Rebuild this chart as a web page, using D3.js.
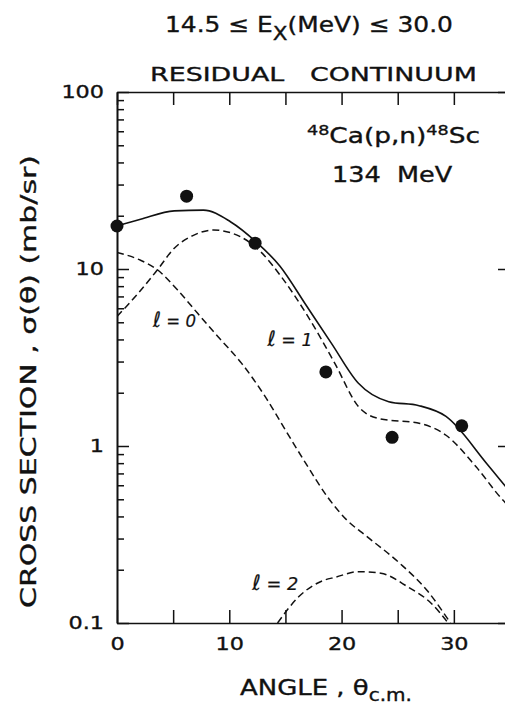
<!DOCTYPE html>
<html>
<head>
<meta charset="utf-8">
<script src="https://cdn.jsdelivr.net/npm/d3@7"></script>
<style>
  body { margin: 0; background: #fff; }
  svg { display: block; }
  text { font-family: "DejaVu Sans", "Liberation Sans", sans-serif; fill: #111; }
</style>
</head>
<body>
<div id="chart"></div>
<script>
const svgWidth = 505;
const svgHeight = 708;

// plot box (right edge runs off the page like the scan)
const margin = { top: 92, right: -5, bottom: 85, left: 117 };
const width = svgWidth - margin.left - margin.right;
const height = svgHeight - margin.top - margin.bottom;

// measured points
const dataAngle = [0, 6.2, 12.3, 18.6, 24.5, 30.7];
const dataSigma = [17.5, 25.8, 14.0, 2.62, 1.12, 1.30];

// total (solid)
const totalAngle = [0, 2.1, 5.1, 7.7, 10.1, 12.35, 14.5, 16.8, 19.1, 21.5, 24.2, 26.9, 29.3, 32.9, 35];
const totalSigma = [17.5, 19.1, 21.3, 21.5, 18.5, 14.3, 10.4, 6.3, 3.8, 2.26, 1.78, 1.69, 1.47, 0.80, 0.55];

// l = 0 component
const l0Angle = [0, 2.1, 3.6, 5.4, 7.2, 9.0, 11.1, 13.2, 15.0, 16.8, 18.8, 20.5, 22.2, 25.2, 27.6, 29.7];
const l0Sigma = [12.4, 11.2, 9.9, 7.6, 5.6, 4.14, 2.93, 1.90, 1.23, 0.80, 0.51, 0.38, 0.31, 0.217, 0.153, 0.1];

// l = 1 component
const l1Angle = [0, 1.9, 3.6, 5.1, 6.9, 8.6, 11.0, 12.8, 14.6, 17.0, 19.4, 21.5, 23.3, 27.0, 29.3, 32.0, 34.3, 35];
const l1Sigma = [5.4, 7.3, 9.9, 13.1, 15.6, 16.6, 15.2, 12.5, 9.1, 5.4, 2.93, 1.67, 1.43, 1.34, 1.15, 0.76, 0.50, 0.45];

// l = 2 component
const l2Angle = [14.3, 16.2, 18.5, 19.4, 21.5, 23.5, 25.9, 28.0, 29.5];
const l2Sigma = [0.1, 0.141, 0.175, 0.181, 0.195, 0.191, 0.160, 0.129, 0.1];

const xTicks = [0, 5, 10, 15, 20, 25, 30, 35];
const xTickLabels = [0, 10, 20, 30];
const yTickLabels = [0.1, 1, 10, 100];

const svg = d3.select("#chart")
  .append("svg")
  .attr("width", svgWidth)
  .attr("height", svgHeight);

const chartGroup = svg.append("g")
  .attr("transform", `translate(${margin.left}, ${margin.top})`);

const x = d3.scaleLinear().domain([0, 35]).range([0, width]);
const y = d3.scaleLog().domain([0.1, 100]).range([height, 0]);

chartGroup.append("clipPath")
  .attr("id", "plotClip")
  .append("rect")
  .attr("width", width)
  .attr("height", height);

// the scanned lettering is much wider than any installed face,
// so text is drawn then stretched horizontally to the measured width
function wideText(parent, px, py, target, size, build, rot) {
  const g = parent.append("g");
  const t = g.append("text")
    .attr("font-size", size)
    .attr("stroke", "#111")
    .attr("stroke-width", 0.35)
    .style("white-space", "pre");
  build(t);
  const w = t.node().getBBox().width;
  const s = target / w;
  g.attr("transform", `translate(${px}, ${py})${rot ? " rotate(-90)" : ""} scale(${s}, 1)`);
  return t;
}

// minor log ticks
const minorTicks = [];
[0.1, 1, 10].forEach(d => {
  for (let k = 2; k <= 9; k++) minorTicks.push(d * k);
});

function styleAxis(g) {
  g.select(".domain").attr("stroke", "#111").attr("stroke-width", 1.6);
  g.selectAll(".tick line").attr("stroke", "#111").attr("stroke-width", 1.5);
}

// bottom / top tick marks (inward)
chartGroup.append("g")
  .attr("transform", `translate(0, ${height})`)
  .call(d3.axisBottom(x).tickValues(xTicks).tickSizeInner(-13).tickSizeOuter(0).tickFormat(""))
  .call(styleAxis);

chartGroup.append("g")
  .call(d3.axisTop(x).tickValues(xTicks).tickSizeInner(-13).tickSizeOuter(0).tickFormat(""))
  .call(styleAxis);

// x labels
const xLab = chartGroup.append("g")
  .attr("transform", `translate(0, ${height})`)
  .call(d3.axisBottom(x).tickValues(xTickLabels).tickSize(0).tickPadding(0).tickFormat(d3.format("d")));
xLab.select(".domain").remove();
xLab.selectAll("text")
  .attr("font-size", 18)
  .attr("font-family", "DejaVu Sans, sans-serif")
  .attr("stroke", "#111").attr("stroke-width", 0.35)
  .attr("y", 0).attr("dy", null)
  .attr("transform", "translate(0, 27) scale(1.24, 1)");

// left axis ticks
chartGroup.append("g")
  .call(d3.axisLeft(y).tickValues(yTickLabels).tickSizeInner(-12).tickSizeOuter(0).tickFormat(""))
  .call(styleAxis);
chartGroup.append("g")
  .call(d3.axisLeft(y).tickValues(minorTicks).tickSizeInner(-7).tickSizeOuter(0).tickFormat(""))
  .call(styleAxis);

// right axis ticks
chartGroup.append("g")
  .attr("transform", `translate(${width}, 0)`)
  .call(d3.axisRight(y).tickValues(yTickLabels).tickSizeInner(-12).tickSizeOuter(0).tickFormat(""))
  .call(styleAxis);
chartGroup.append("g")
  .attr("transform", `translate(${width}, 0)`)
  .call(d3.axisRight(y).tickValues(minorTicks).tickSizeInner(-5).tickSizeOuter(0).tickFormat(""))
  .call(styleAxis);

// y labels
const yLab = chartGroup.append("g")
  .call(d3.axisLeft(y).tickValues(yTickLabels).tickSize(0).tickPadding(0)
    .tickFormat(d => d < 1 ? "0.1" : d3.format("d")(d)));
yLab.select(".domain").remove();
yLab.selectAll("text")
  .attr("font-size", 18)
  .attr("font-family", "DejaVu Sans, sans-serif")
  .attr("stroke", "#111").attr("stroke-width", 0.35)
  .attr("x", 0)
  .attr("transform", "translate(-13, 0) scale(1.24, 1)");

// curves
const line = d3.line()
  .x(d => x(d[0]))
  .y(d => y(d[1]))
  .curve(d3.curveMonotoneX);

const curves = chartGroup.append("g").attr("clip-path", "url(#plotClip)");

function addCurve(angles, sigmas, dashed) {
  curves.append("path")
    .datum(d3.zip(angles, sigmas))
    .attr("d", line)
    .attr("fill", "none")
    .attr("stroke", "#111")
    .attr("stroke-width", dashed ? 1.5 : 1.6)
    .attr("stroke-dasharray", dashed ? "7,4" : null);
}

addCurve(totalAngle, totalSigma, false);
addCurve(l0Angle, l0Sigma, true);
addCurve(l1Angle, l1Sigma, true);
addCurve(l2Angle, l2Sigma, true);

// data points
chartGroup.selectAll(".dot")
  .data(d3.zip(dataAngle, dataSigma))
  .enter()
  .append("circle")
  .attr("class", "dot")
  .attr("cx", d => x(d[0]))
  .attr("cy", d => y(d[1]))
  .attr("r", 6.5)
  .attr("fill", "#111");

// partial-wave labels
function ellLabel(ang, sig, n, target) {
  wideText(chartGroup, x(ang), y(sig), target, 18, t => {
    t.attr("font-family", "DejaVu Serif, serif")
      .attr("font-style", "italic")
      .attr("stroke-width", 0.2);
    t.append("tspan").attr("font-size", 21).text("ℓ");
    t.append("tspan").text(" = " + n);
  });
}
ellLabel(3.2, 4.7, 0, 44);
ellLabel(13.4, 3.67, 1, 46);
ellLabel(12.05, 0.153, 2, 47);

// reaction label
wideText(svg, 307, 143, 173, 21, t => {
  t.append("tspan").attr("font-size", 14).attr("dy", -8).text("48");
  t.append("tspan").attr("dy", 8).text("Ca(p,n)");
  t.append("tspan").attr("font-size", 14).attr("dy", -8).text("48");
  t.append("tspan").attr("dy", 8).text("Sc");
});

wideText(svg, 332, 182, 121, 21, t => t.text("134  MeV"));

// titles
wideText(svg, 165, 32, 288, 22, t => {
  t.append("tspan").text("14.5 ≤ E");
  t.append("tspan").attr("font-size", 19).attr("dy", 8).text("X");
  t.append("tspan").attr("dy", -8).text("(MeV) ≤ 30.0");
});

wideText(svg, 150, 81, 327, 19.5, t => t.text("RESIDUAL   CONTINUUM"));

// axis titles
wideText(svg, 240, 695, 172, 22, t => {
  t.append("tspan").text("ANGLE , θ");
  t.append("tspan").attr("font-size", 17).attr("dy", 6).text("c.m.");
});

wideText(svg, 36, 608, 453, 21, t => t.text("CROSS SECTION , σ(θ) (mb/sr)"), true);
</script>
</body>
</html>
